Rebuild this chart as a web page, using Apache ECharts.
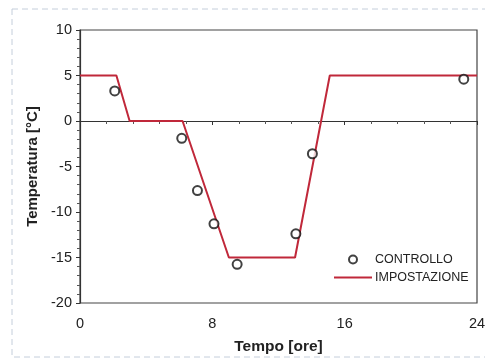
<!DOCTYPE html>
<html><head><meta charset="utf-8">
<script src="https://cdn.jsdelivr.net/npm/echarts@6/dist/echarts.min.js"></script>
<style>html,body{margin:0;padding:0;background:#fff}#c{width:485px;height:359px}</style>
</head><body><div id="c"></div>
<script>
const setHours = [0, 2.2, 3.0, 6.2, 9.0, 13.0, 15.1, 24];
const setTemps = [5, 5, 0, 0, -15, -15, 5, 5];
const ctrlHours = [2.1, 6.15, 7.1, 8.1, 9.5, 13.05, 14.05, 23.2];
const ctrlTemps = [3.3, -1.9, -7.65, -11.3, -15.75, -12.4, -3.6, 4.6];
const xTicks = [0, 8, 16, 24];
const yTicks = [-20, -15, -10, -5, 0, 5, 10];

const chart = echarts.init(document.getElementById('c'));
const font = 'Liberation Sans, Arial, sans-serif';
chart.setOption({
  animation: false,
  graphic: [{
    type: 'rect', shape: {x: 12, y: 9, width: 480, height: 348},
    style: {fill: 'none', stroke: '#c4cedb', lineWidth: 1, lineDash: [6, 4]}, silent: true
  }],
  grid: {left: 80, right: 8, top: 30, bottom: 56, outerBoundsMode: 'none', containLabel: false,
    show: true, borderColor: '#444', borderWidth: 1.2, backgroundColor: 'transparent'},
  xAxis: {
    type: 'value', min: 0, max: 24, interval: 8,
    name: 'Tempo [ore]', nameLocation: 'middle', nameGap: 36,
    nameTextStyle: {fontFamily: font, fontWeight: 'bold', fontSize: 15.5, color: '#222'},
    axisLine: {lineStyle: {color: '#333', width: 1.2}},
    axisTick: {show: true, inside: false, length: 4, lineStyle: {color: '#333'}},
    minorTick: {show: true, splitNumber: 5, length: 3, lineStyle: {color: '#555'}},
    splitLine: {show: false},
    axisLabel: {fontFamily: font, fontSize: 14.5, color: '#222', margin: 13,
      formatter: v => xTicks.includes(v) ? String(v) : ''}
  },
  yAxis: {
    type: 'value', min: -20, max: 10, interval: 5,
    name: 'Temperatura [°C]', nameLocation: 'middle', nameGap: 40, nameRotate: 90,
    nameTextStyle: {fontFamily: font, fontWeight: 'bold', fontSize: 15, color: '#222'},
    axisLine: {show: true, lineStyle: {color: '#333', width: 1.2}},
    axisTick: {show: true, inside: false, length: 4, lineStyle: {color: '#333'}},
    minorTick: {show: true, splitNumber: 5, length: 3, lineStyle: {color: '#555'}},
    splitLine: {show: false},
    axisLabel: {fontFamily: font, fontSize: 14.5, color: '#222', margin: 8,
      formatter: v => yTicks.includes(v) ? String(v) : ''}
  },
  legend: {
    orient: 'vertical', left: 329, top: 248, itemGap: 5, itemWidth: 38, itemHeight: 8,
    textStyle: {fontFamily: font, fontSize: 12.5, color: '#222', padding: [0, 0, 0, -2]},
    data: [
      {name: 'CONTROLLO', icon: 'emptyCircle', itemStyle: {color: '#111', borderColor: '#111', borderWidth: 1.8}},
      {name: 'IMPOSTAZIONE', icon: 'path://M0,0H38V2H0Z', itemStyle: {color: '#c0283a'}}
    ]
  },
  series: [
    {
      name: 'IMPOSTAZIONE', type: 'line', symbol: 'none', showSymbol: false,
      data: setHours.map((h, i) => [h, setTemps[i]]),
      lineStyle: {color: '#c0283a', width: 2}, itemStyle: {color: '#c0283a'}, z: 2
    },
    {
      name: 'CONTROLLO', type: 'scatter', symbol: 'emptyCircle', symbolSize: 9,
      data: ctrlHours.map((h, i) => [h, ctrlTemps[i]]),
      itemStyle: {color: '#111', borderColor: '#111', borderWidth: 1.7}, z: 3
    }
  ]
});
</script></body></html>
